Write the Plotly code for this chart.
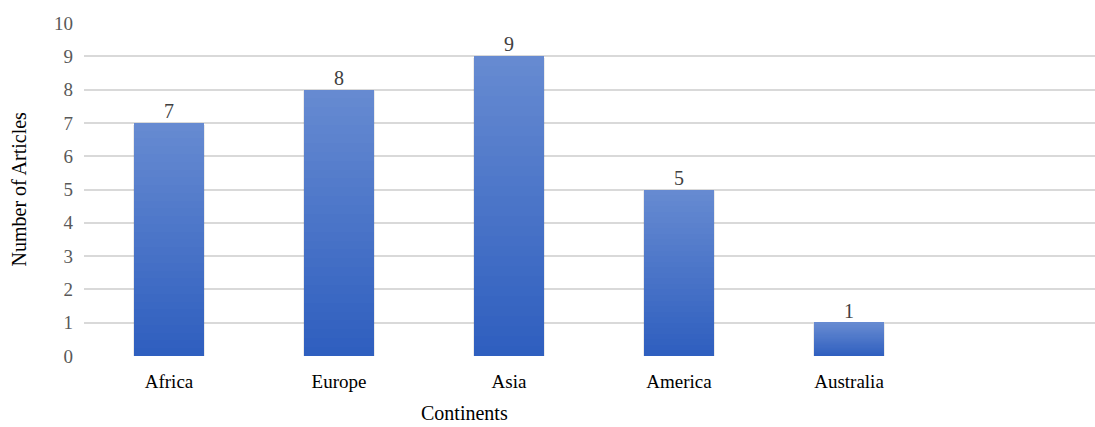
import plotly.graph_objects as go

continents = ["Africa", "Europe", "Asia", "America", "Australia"]
articles = [7, 8, 9, 5, 1]
y_ticks = [0, 1, 2, 3, 4, 5, 6, 7, 8, 9, 10]

N_SEG = 30
bottom_rgb = (0x2F, 0x5F, 0xBF)
top_rgb = (0x66, 0x8A, 0xD1)

fig = go.Figure()
xs = list(range(len(continents)))

# soft shadow behind bars
fig.add_trace(go.Bar(x=xs, y=articles, width=0.425, base=[-0.05] * len(articles),
                     marker=dict(color="rgba(0,0,0,0.08)", line=dict(width=0)),
                     hoverinfo="skip", showlegend=False))

for i in range(N_SEG):
    t = i / (N_SEG - 1)
    c = tuple(round(b + (tp - b) * t) for b, tp in zip(bottom_rgb, top_rgb))
    fig.add_trace(go.Bar(
        x=xs, y=[v / N_SEG for v in articles], width=0.406,
        base=[v * i / N_SEG for v in articles],
        marker=dict(color="rgb(%d,%d,%d)" % c, line=dict(width=0)),
        showlegend=False, hoverinfo="skip",
    ))

fig.add_trace(go.Scatter(
    x=xs, y=articles, mode="text", text=[str(v) for v in articles],
    textposition="top center",
    textfont=dict(family="Liberation Serif", size=20, color="#404040"),
    showlegend=False, hoverinfo="skip",
))

fig.update_layout(
    width=1095, height=427,
    margin=dict(l=84, r=0, t=23, b=71),
    plot_bgcolor="white", paper_bgcolor="white",
    barmode="overlay", bargap=0,
    font=dict(family="Liberation Serif", size=19, color="#595959"),
    xaxis=dict(
        range=[-0.5, -0.5 + 1011 / 170], tickvals=xs, ticktext=continents,
        showgrid=False, zeroline=False, showline=False, ticks="",
        tickfont=dict(family="Liberation Serif", size=19, color="#000000"),
        ticklabelstandoff=12,
    ),
    yaxis=dict(
        range=[0, 10], tickvals=y_ticks, showgrid=True, gridcolor="#d9d9d9", gridwidth=1.5,
        zeroline=False, showline=False, ticks="",
        tickfont=dict(family="Liberation Serif", size=19, color="#595959"),
        ticklabelstandoff=10,
    ),
    annotations=[
        dict(text="Number of Articles", xref="paper", yref="paper", x=-84 / 1011 + 18 / 1011, y=0.5,
             textangle=-90, showarrow=False, xanchor="center", yanchor="middle",
             font=dict(family="Liberation Serif", size=20, color="#000000")),
        dict(text="Continents", xref="paper", yref="paper", x=(464 - 84) / 1011, y=-(413 - 356) / 333,
             showarrow=False, xanchor="center", yanchor="middle",
             font=dict(family="Liberation Serif", size=20, color="#000000")),
    ],
)

fig.write_html("out.html")
